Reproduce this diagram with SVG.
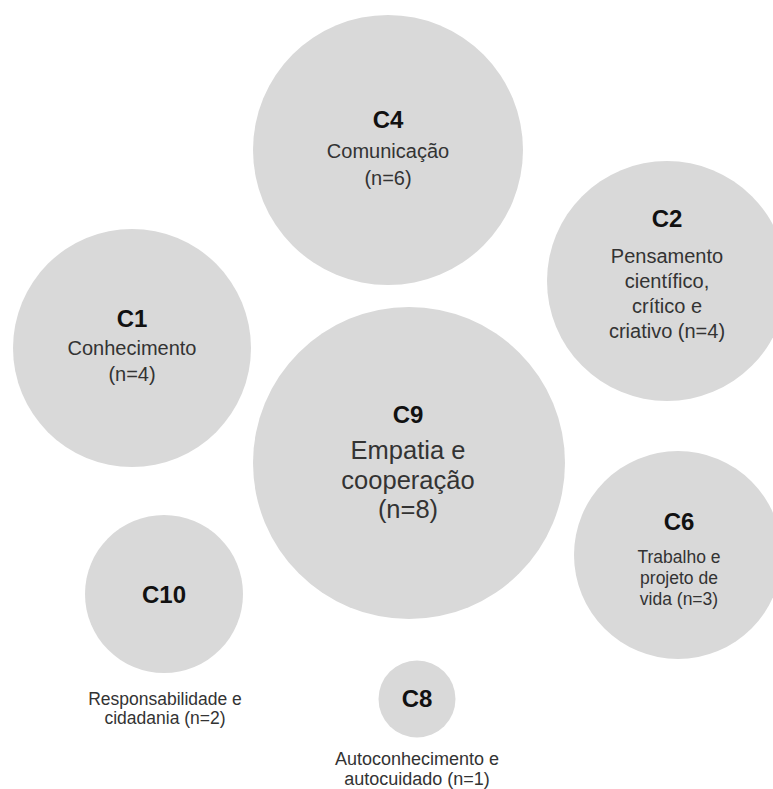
<svg xmlns="http://www.w3.org/2000/svg" width="773" height="789" viewBox="0 0 773 789">
<style>
.c{fill:#d9d9d9}
text{font-family:"Liberation Sans",Arial,sans-serif;text-anchor:middle}
.t{font-weight:bold;font-size:24px;fill:#111}
.s{font-size:20px;fill:#333}
.m{font-size:25.5px;fill:#333}
.x{font-size:17.5px;fill:#333}
.y{font-size:18px;fill:#333}
</style>
<rect width="773" height="789" fill="#ffffff"/>
<g id="connectors"/>
<g id="C4">
<circle class="c" cx="388" cy="150" r="135"/>
<text class="t" x="388" y="128">C4</text>
<text class="s" x="388" y="158">Comunicação</text>
<text class="s" x="388" y="185">(n=6)</text>
</g>
<g id="C2">
<circle class="c" cx="667" cy="281" r="120"/>
<text class="t" x="667" y="227">C2</text>
<text class="s" x="667" y="263">Pensamento</text>
<text class="s" x="667" y="288">científico,</text>
<text class="s" x="667" y="313">crítico e</text>
<text class="s" x="667" y="338">criativo (n=4)</text>
</g>
<g id="C1">
<circle class="c" cx="132" cy="348" r="119"/>
<text class="t" x="132" y="327">C1</text>
<text class="s" x="132" y="355">Conhecimento</text>
<text class="s" x="132" y="381">(n=4)</text>
</g>
<g id="C9">
<circle class="c" cx="409" cy="463" r="156"/>
<text class="t" x="408" y="423">C9</text>
<text class="m" x="408" y="459">Empatia e</text>
<text class="m" x="408" y="489">cooperação</text>
<text class="m" x="408" y="518">(n=8)</text>
</g>
<g id="C6">
<circle class="c" cx="678" cy="555" r="104"/>
<text class="t" x="679" y="530">C6</text>
<text class="x" x="679" y="563">Trabalho e</text>
<text class="x" x="679" y="584">projeto de</text>
<text class="x" x="679" y="605">vida (n=3)</text>
</g>
<g id="C10">
<circle class="c" cx="164" cy="594" r="79"/>
<text class="t" x="164" y="603">C10</text>
<text class="x" x="165" y="705">Responsabilidade e</text>
<text class="x" x="165" y="724">cidadania (n=2)</text>
</g>
<g id="C8">
<circle class="c" cx="417" cy="699" r="38.5"/>
<text class="t" x="417" y="707">C8</text>
<text class="y" x="417" y="765">Autoconhecimento e</text>
<text class="y" x="417" y="785">autocuidado (n=1)</text>
</g>
</svg>
